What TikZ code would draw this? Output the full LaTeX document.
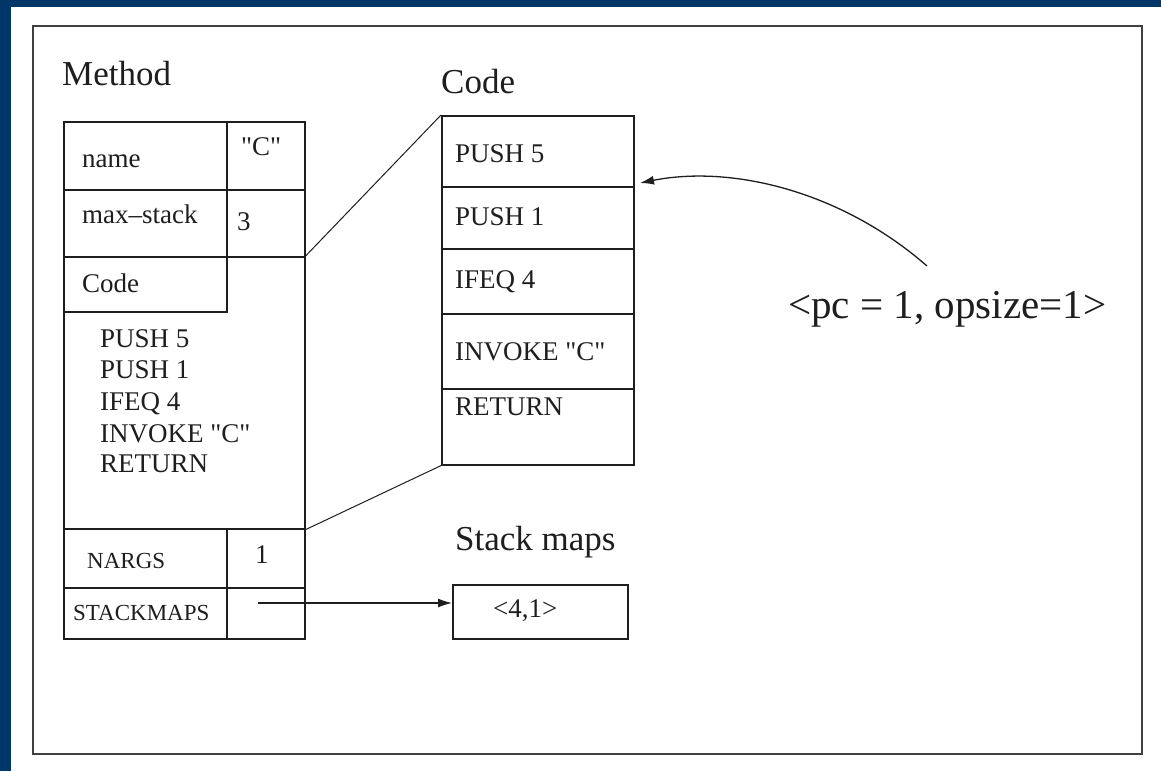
\documentclass[tikz,border=0pt]{standalone}
\usepackage{fontspec}
\setmainfont{Liberation Serif}[Ligatures=TeXOff]
\usetikzlibrary{arrows.meta}
\definecolor{navy}{RGB}{0,54,104}
\definecolor{ink}{RGB}{30,30,30}
\tikzset{
  cell/.style={draw=ink, line width=1.6pt, inner sep=0pt, anchor=north west},
  lbl/.style={anchor=base west, inner sep=0pt, text=ink, font=\fontsize{27}{30}\selectfont},
  small/.style={anchor=base west, inner sep=0pt, text=ink, font=\fontsize{23}{26}\selectfont},
  ttl/.style={anchor=base west, inner sep=0pt, text=ink, font=\fontsize{35}{38}\selectfont},
  thin/.style={draw=ink, line width=1pt},
  arr/.style={draw=ink, line width=1.3pt, -{Latex[length=14pt,width=9pt]}}
}
\begin{document}
\begin{tikzpicture}[x=1pt,y=-1pt]
\useasboundingbox (0,0) rectangle (1161,771);
\fill[navy] (0,0) rectangle (1161,771);
\fill[white] (11,7) rectangle (1161,771);
\draw[draw=black!75, line width=2pt] (33,26) rectangle (1142,754);

% Method table
\node[ttl] (tmethod) at (62,85) {Method};
\node[cell, minimum width=163pt, minimum height=68pt] (nameK) at (63,121) {};
\node[cell, minimum width=78pt, minimum height=68pt] (nameV) at (226,121) {};
\node[cell, minimum width=163pt, minimum height=67pt] (maxK) at (63,189) {};
\node[cell, minimum width=78pt, minimum height=67pt] (maxV) at (226,189) {};
\node[cell, minimum width=241pt, minimum height=272pt] (mcode) at (63,256) {};
\node[cell, minimum width=163pt, minimum height=55pt] (codeK) at (63,256) {};
\node[cell, minimum width=163pt, minimum height=59pt] (nargK) at (63,528) {};
\node[cell, minimum width=78pt, minimum height=59pt] (nargV) at (226,528) {};
\node[cell, minimum width=163pt, minimum height=51pt] (smK) at (63,587) {};
\node[cell, minimum width=78pt, minimum height=51pt] (smV) at (226,587) {};

\node[lbl] (tname) at (82,167) {name};
\node[lbl] (tnamev) at (241,155) {"C"};
\node[lbl] (tmax) at (82,223) {max–stack};
\node[lbl] (tmaxv) at (237,230) {3};
\node[lbl] (tcodek) at (82,292) {Code};
\node[lbl] (l1) at (100,347) {PUSH 5};
\node[lbl] (l2) at (100,378) {PUSH 1};
\node[lbl] (l3) at (100,410) {IFEQ 4};
\node[lbl] (l4) at (100,442) {INVOKE "C"};
\node[lbl] (l5) at (100,472) {RETURN};
\node[small] (tnarg) at (87,568) {NARGS};
\node[lbl] (tnargv) at (255,563) {1};
\node[small] (tsm) at (73,620) {STACKMAPS};

% Code table
\node[ttl] (tcode) at (441,93) {Code};
\node[cell, minimum width=192pt, minimum height=71pt] (c1) at (441,115) {};
\node[cell, minimum width=192pt, minimum height=62pt] (c2) at (441,186) {};
\node[cell, minimum width=192pt, minimum height=65pt] (c3) at (441,248) {};
\node[cell, minimum width=192pt, minimum height=75pt] (c4) at (441,313) {};
\node[cell, minimum width=192pt, minimum height=76pt] (c5) at (441,388) {};
\node[lbl] (k1) at (455,162) {PUSH 5};
\node[lbl] (k2) at (455,225) {PUSH 1};
\node[lbl] (k3) at (455,288) {IFEQ 4};
\node[lbl] (k4) at (455,360) {INVOKE "C"};
\node[lbl] (k5) at (455,415) {RETURN};

% Stack maps
\node[ttl] (tstack) at (455,550) {Stack maps};
\node[cell, minimum width=175pt, minimum height=54pt] (smbox) at (452,584) {};
\node[lbl] (t41) at (493,617) {<4,1>};

% pc label
\node[anchor=base west, inner sep=0pt, text=ink, font=\fontsize{41}{44}\selectfont] (pc) at (788,318) {<pc = 1, opsize=1>};

% connectors
\draw[thin] (mcode.north east) -- (c1.north west);
\draw[thin] (mcode.south east) -- (c5.south west);
\coordinate (smptr) at (258,603);
\draw[arr] (smptr) -- (smptr -| smbox.west);
\coordinate (pcfrom) at (927,266);
\coordinate (pcto) at (640,183);
\draw[arr] (pcfrom) .. controls (840,190) and (730,165) .. (pcto);
\end{tikzpicture}
\end{document}
